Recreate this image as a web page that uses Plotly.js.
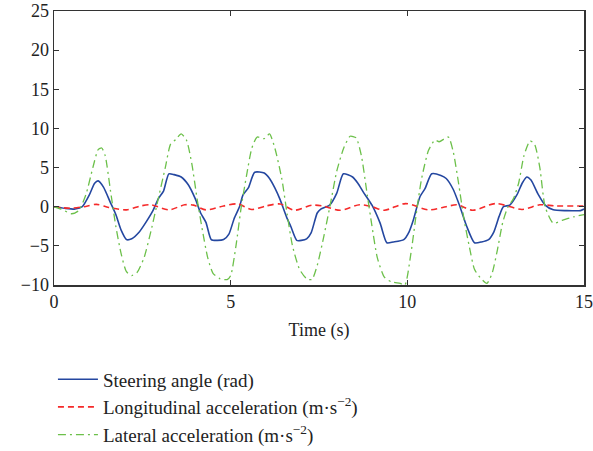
<!DOCTYPE html>
<html>
<head>
<meta charset="utf-8">
<script src="https://cdn.plot.ly/plotly-3.0.1.min.js"></script>
<style>html,body{margin:0;padding:0;background:#fff;}#chart{width:593px;height:451px;}</style>
</head>
<body>
<div id="chart"></div>
<script>
// Steering angle (rad)
const steerT = [0,0.3,0.6,0.8,1.0,1.15,1.25,1.4,1.6,1.75,1.9,2.05,2.2,2.4,2.6,2.8,2.95,3.1,3.25,3.4,3.6,3.8,4.0,4.15,4.3,4.45,4.6,4.8,4.95,5.1,5.25,5.35,5.5,5.68,5.95,6.1,6.25,6.4,6.58,6.7,6.87,7.0,7.15,7.28,7.45,7.55,7.8,8.0,8.19,8.45,8.6,8.75,9.0,9.23,9.42,9.6,9.9,10.05,10.17,10.36,10.5,10.69,10.95,11.1,11.3,11.49,11.68,11.9,12.1,12.3,12.45,12.6,12.72,12.9,13.1,13.25,13.38,13.5,13.7,13.9,14.13,14.5,14.9,15];
const steerV = [0,-0.2,-0.3,0,1.5,3.0,3.3,2.5,0.5,-1.0,-3.0,-4.2,-4.1,-3.3,-2.0,-0.5,1.0,2.0,4.2,4.1,3.8,2.8,1.0,-0.8,-2.0,-4.2,-4.3,-4.2,-3.5,-1.5,0,1.5,2.4,4.4,4.3,3.6,2.4,0.9,-1.3,-2.5,-4.3,-4.3,-4.1,-3.3,-0.8,-0.3,0.2,1.7,4.2,3.8,3.0,1.9,0.2,-2.1,-4.6,-4.5,-4.2,-3.2,-1.7,1.3,2.3,4.2,4.0,3.6,2.2,0,-2.5,-4.6,-4.5,-4.2,-3.2,-1.2,0,0.2,1.5,3.0,3.8,3.4,1.6,0.2,-0.4,-0.5,-0.5,-0.3];

// Longitudinal acceleration (m·s^-2)
const longT = [0,0.45,0.85,1.2,1.55,2.05,2.45,2.75,3.25,3.7,3.95,4.3,4.8,5.2,5.6,6.0,6.4,6.8,7.3,7.6,8.1,8.65,9.0,9.35,9.95,10.6,11.1,11.4,11.85,12.5,13.25,13.75,14.2,15];
const longV = [0,-0.2,0,0.3,-0.1,-0.4,0.1,0.25,-0.4,0.25,0.2,-0.4,0.1,0.35,-0.35,0.1,0.35,-0.45,0.2,0.1,-0.45,0.25,0,-0.45,0.4,-0.4,0,0.25,-0.45,0.4,-0.35,0.25,0.1,0.1];

// Lateral acceleration (m·s^-2)
const latT = [0,0.2,0.5,0.7,0.9,1.1,1.25,1.35,1.45,1.6,1.75,1.9,2.05,2.2,2.35,2.55,2.75,2.95,3.15,3.3,3.45,3.6,3.75,3.9,4.05,4.2,4.35,4.5,4.7,4.9,5.0,5.15,5.3,5.45,5.6,5.75,5.95,6.1,6.25,6.45,6.6,6.75,6.95,7.15,7.3,7.45,7.65,7.85,8.0,8.2,8.38,8.55,8.7,8.85,9.0,9.15,9.35,9.55,9.8,9.93,10.1,10.25,10.4,10.6,10.78,10.9,11.16,11.3,11.45,11.6,11.75,11.9,12.05,12.25,12.4,12.55,12.7,12.85,13.0,13.15,13.3,13.47,13.6,13.75,13.9,14.13,14.4,14.7,15];
const latV = [0,-0.3,-0.9,-0.5,1.5,5.0,7.3,7.5,6.5,2.0,-2.5,-6.0,-8.3,-8.8,-8.4,-6.5,-3.0,1.0,5.0,8.0,8.6,9.3,8.5,5.5,1.0,-3.0,-6.5,-8.5,-9.2,-9.3,-8.8,-5.0,0,4.0,7.5,8.9,8.7,9.3,7.5,3.5,-1.0,-5.0,-8.0,-9.2,-9.3,-7.5,-3.5,1.0,4.5,7.5,9.0,8.8,6.5,2.0,-2.5,-6.5,-9.0,-9.6,-9.8,-10.0,-6.0,-1.0,3.5,7.2,8.5,8.3,8.9,7.0,3.0,-1.5,-5.0,-8.0,-9.0,-9.8,-8.5,-5.5,-2.0,0,1.0,3.0,6.5,8.4,8.0,5.0,0,-2.1,-1.7,-1.3,-1.0];

const xTicks = [0,5,10,15];
const yTicks = [-10,-5,0,5,10,15,20,25];

const traces = [
  {x: steerT, y: steerV, name: 'Steering angle (rad)', mode: 'lines',
   line: {color: '#2447a0', width: 1.6, shape: 'spline', smoothing: 0.6}},
  {x: longT, y: longV, name: 'Longitudinal acceleration (m·s<sup>−2</sup>)', mode: 'lines',
   line: {color: '#f52a2a', width: 1.6, dash: '6px,4px', shape: 'spline', smoothing: 0.8}},
  {x: latT, y: latV, name: 'Lateral acceleration (m·s<sup>−2</sup>)', mode: 'lines',
   line: {color: '#6cc04a', width: 1.3, dash: '8px,4px,2px,4px', shape: 'spline', smoothing: 0.6}}
];

const serif = 'Liberation Serif, serif';
const axisCommon = {
  showline: true, mirror: 'ticks', linecolor: '#333', linewidth: 1.5,
  ticks: 'inside', ticklen: 5, tickcolor: '#333', tickwidth: 1.2,
  showgrid: false, zeroline: false,
  tickfont: {family: serif, size: 18, color: '#222'}
};

const layout = {
  width: 593, height: 451,
  margin: {l: 54, r: 9, t: 11, b: 166, autoexpand: false},
  paper_bgcolor: '#fff', plot_bgcolor: '#fff',
  font: {family: serif, size: 18, color: '#222'},
  xaxis: Object.assign({}, axisCommon, {range: [0, 15], tickvals: xTicks,
    title: {text: 'Time (s)', font: {family: serif, size: 18, color: '#222'}, standoff: 12}}),
  yaxis: Object.assign({}, axisCommon, {range: [-10, 25], tickvals: yTicks}),
  showlegend: true,
  legend: {x: -0.002, xanchor: 'left', y: -0.275, yanchor: 'top', itemwidth: 40,
    bgcolor: 'rgba(0,0,0,0)', font: {family: serif, size: 19, color: '#222'}}
};

Plotly.newPlot('chart', traces, layout, {staticPlot: true, displayModeBar: false});
</script>
</body>
</html>
